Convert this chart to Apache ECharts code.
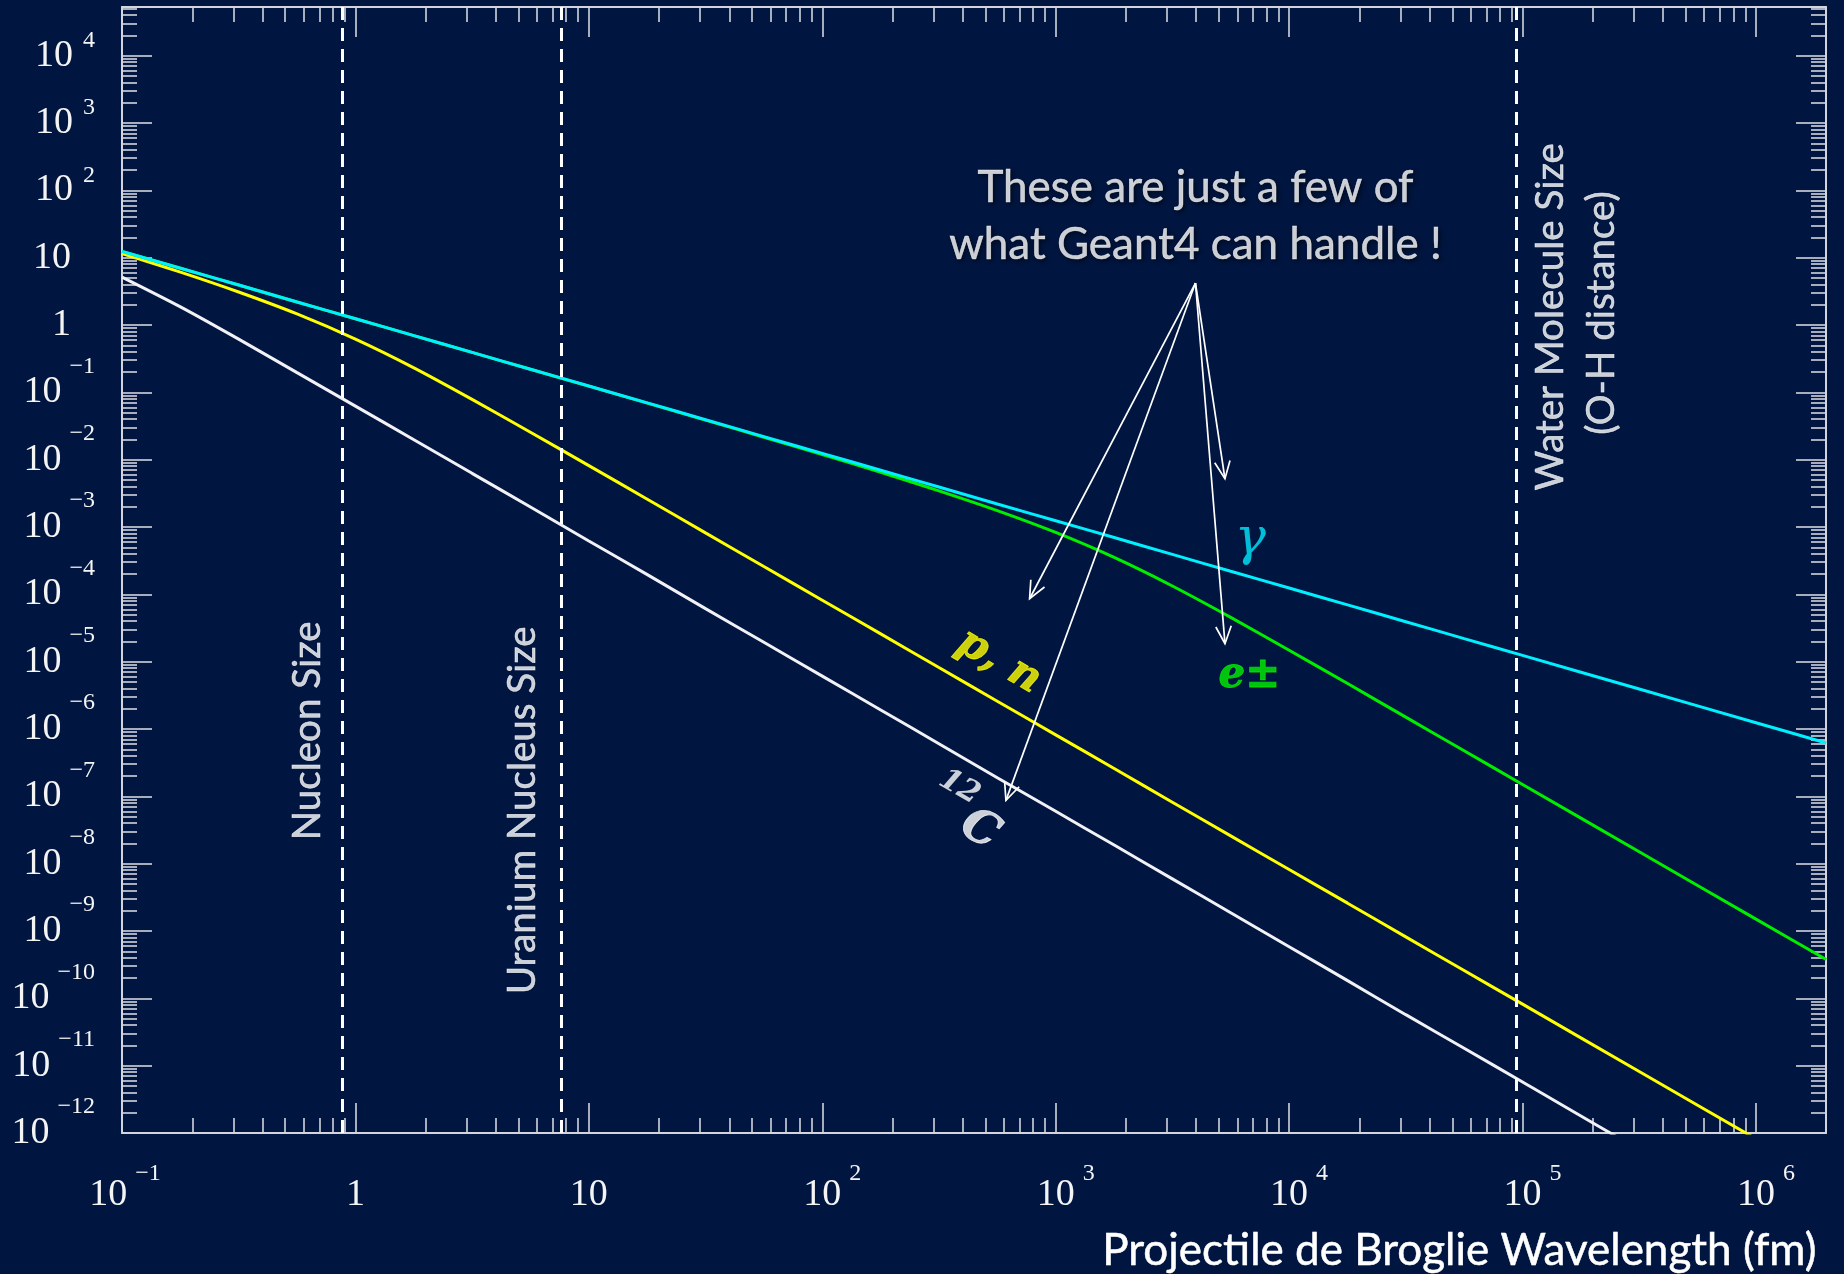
<!DOCTYPE html>
<html>
<head>
<meta charset="utf-8">
<script src="https://cdn.jsdelivr.net/npm/echarts@6/dist/echarts.min.js"></script>
<style>
html,body{margin:0;padding:0;background:#001640;}
#chart{width:1844px;height:1274px;}
</style>
</head>
<body>
<div id="chart"></div>
<script>
// ---------------- data ----------------
// de Broglie wavelength (fm)
const wavelengthFm = [0.1, 0.178, 0.316, 0.562, 1, 1.78, 3.16, 5.62, 10, 17.8, 31.6, 56.2, 100, 178, 316, 562, 1000, 1780, 3160, 5620, 10000, 17800, 31600, 56200, 100000, 316000, 1000000, 2000000];
// kinetic energy (GeV) of each projectile at those wavelengths
const gammaGeV = [12.4, 6.97, 3.92, 2.2, 1.24, 0.697, 0.392, 0.22, 0.124, 0.0697, 0.0392, 0.022, 0.0124, 0.00697, 0.00392, 0.0022, 0.00124, 6.97e-4, 3.92e-4, 2.2e-4, 1.24e-4, 6.97e-5, 3.92e-5, 2.2e-5, 1.24e-5, 3.92e-6, 1.24e-6, 6.2e-7];
const electronGeV = [12.4, 6.97, 3.92, 2.2, 1.24, 0.697, 0.392, 0.22, 0.1235, 0.0692, 0.0387, 0.02155, 0.0119, 0.00648, 0.00344, 0.00175, 8.3e-4, 3.53e-4, 1.33e-4, 4.55e-5, 1.48e-5, 4.73e-6, 1.5e-6, 4.75e-7, 1.5e-7, 1.5e-8, 1.5e-9, 3.78e-10];
const nucleonGeV = [11.5, 6.1, 3.09, 1.46, 0.617, 0.231, 0.0786, 0.0256, 0.00816, 0.00259, 8.19e-4, 2.59e-4, 8.19e-5, 2.59e-5, 8.19e-6, 2.59e-6, 8.19e-7, 2.59e-7, 8.19e-8, 2.59e-8, 8.19e-9, 2.59e-9, 8.19e-10, 2.59e-10, 8.19e-11, 8.19e-12, 8.19e-13, 2.05e-13];
const carbonGeV = [5.15, 1.86, 0.617, 0.196, 0.0625, 0.0198, 0.00627, 0.00198, 6.2e-4, 1.96e-4, 6.13e-5, 1.94e-5, 6.1e-6, 1.92e-6, 6.05e-7, 1.89e-7, 5.99e-8, 1.89e-8, 5.95e-9, 1.87e-9, 5.85e-10, 1.83e-10, 5.72e-11, 1.81e-11, 5.72e-12, 5.7e-13, 6.9e-14, 1.7e-14];

// reference sizes (fm)
const nucleonSizeFm = 0.88;
const uraniumSizeFm = 7.65;
const waterOHFm = 94000;

// axis tick exponents (decades)
const xTickExponents = [-1, 0, 1, 2, 3, 4, 5, 6];
const yTickExponents = [-12, -11, -10, -9, -8, -7, -6, -5, -4, -3, -2, -1, 0, 1, 2, 3, 4];

// axis ranges (in decades)
const X_LOG_MIN = -1, X_LOG_MAX = 6.3;
const Y_LOG_MIN = -12, Y_LOG_MAX = 4.723;

// annotation arrows: one origin, four targets (data coordinates)
const arrowFrom = [3970, 4.2];
const arrowTo = [[773, 8.6e-5], [5310, 5.2e-3], [5310, 1.85e-5], [612, 8.7e-8]];

// ---------------- chart ----------------
const BG = '#001640';
const AXC = '#d2d5de';
const LBL = '#f4f4f4';
const MINUS = '\u2212';

function minorTicks(lo, hi) {
  const out = [];
  for (let k = Math.floor(lo); k < hi; k++) {
    for (let m = 2; m <= 9; m++) {
      const v = k + Math.log10(m);
      if (v > lo && v < hi) out.push(v);
    }
  }
  return out;
}
const xMinor = minorTicks(X_LOG_MIN, X_LOG_MAX);
const yMinor = minorTicks(Y_LOG_MIN, Y_LOG_MAX);

const serif = 'Liberation Serif';
const yRich = {
  m:  {fontFamily: serif, fontSize: 38, color: LBL},
  m0: {fontFamily: serif, fontSize: 38, color: LBL, padding: [0, 24, 0, 0]},
  ep: {fontFamily: serif, fontSize: 24, color: LBL, padding: [0, 0, 30, 10]},
  en: {fontFamily: serif, fontSize: 24, color: LBL, padding: [0, 0, 52, 8]}
};
const xRich = {
  m:  {fontFamily: serif, fontSize: 38, color: LBL},
  mp: {fontFamily: serif, fontSize: 38, color: LBL, padding: [0, 0, 0, 20]},
  mq: {fontFamily: serif, fontSize: 38, color: LBL, padding: [0, 0, 0, 6]},
  ep: {fontFamily: serif, fontSize: 24, color: LBL, padding: [0, 0, 42, 8]},
  en: {fontFamily: serif, fontSize: 24, color: LBL, padding: [0, 0, 42, 8]}
};
function yLabel(v) {
  const k = Math.round(v);
  if (k === 0) return '{m0|1}';
  if (k === 1) return '{m0|10}';
  if (k > 1) return '{m|10}{ep|' + k + '}';
  return '{m|10}{en|' + MINUS + (-k) + '}';
}
function xLabel(v) {
  const k = Math.round(v);
  if (k === 0) return '{m|1}';
  if (k === 1) return '{m|10}';
  if (k > 1) return '{mp|10}{ep|' + k + '}';
  return '{mq|10}{en|' + MINUS + (-k) + '}';
}

function tickAxis(dim, pos, major, showLine, label) {
  const isX = dim === 'x';
  const ax = {
    type: 'value',
    position: pos,
    min: isX ? X_LOG_MIN : Y_LOG_MIN,
    max: isX ? X_LOG_MAX : Y_LOG_MAX,
    axisLine: {show: showLine, onZero: false, lineStyle: {color: AXC, width: 2}},
    axisTick: {show: true, inside: true, length: major ? 30 : 15,
               customValues: major ? (isX ? xTickExponents : yTickExponents) : (isX ? xMinor : yMinor),
               lineStyle: {color: AXC, width: 1.6}},
    axisLabel: {show: false},
    splitLine: {show: false},
    silent: true
  };
  if (label) ax.axisLabel = label;
  return ax;
}

function renderArrow(params, api) {
  const p0 = api.coord([api.value(0), api.value(1)]);
  const p1 = api.coord([api.value(2), api.value(3)]);
  const dx = p1[0] - p0[0], dy = p1[1] - p0[1];
  const len = Math.sqrt(dx * dx + dy * dy);
  const bx = -dx / len, by = -dy / len;
  const head = 19, ang = 24 * Math.PI / 180;
  const ca = Math.cos(ang), sa = Math.sin(ang);
  const w1 = [p1[0] + head * (bx * ca - by * sa), p1[1] + head * (bx * sa + by * ca)];
  const w2 = [p1[0] + head * (bx * ca + by * sa), p1[1] + head * (-bx * sa + by * ca)];
  const st = {stroke: '#ffffff', lineWidth: 1.7, fill: null};
  return {
    type: 'group',
    children: [
      {type: 'line', shape: {x1: p0[0], y1: p0[1], x2: p1[0], y2: p1[1]}, style: st},
      {type: 'polyline', shape: {points: [w1, p1, w2]}, style: st}
    ]
  };
}

const pairs = ys => wavelengthFm.map((x, i) => [x, ys[i]]);
const curve = (name, ys, color) => ({
  type: 'line', name: name, data: pairs(ys), xAxisIndex: 0, yAxisIndex: 0,
  symbol: 'none', showSymbol: false, clip: true, silent: true,
  smooth: 0.25,
  lineStyle: {color: color, width: 3}
});

const sansFont = 'Lato';
const mathFont = 'DejaVu Serif';
const sansText = (txt, size) => ({formatter: txt, rotate: 90, fontFamily: sansFont, fontSize: size, color: '#ffffff',
  textBorderColor: '#ffffff', textBorderWidth: 0.5});
const textLabels = [
  {value: [0.624, 9.4e-7], label: sansText('Nucleon Size', 38.5)},
  {value: [5.2, 6.2e-8], label: sansText('Uranium Nucleus Size', 38.5)},
  {value: [131500, 1.32], label: sansText('Water Molecule Size', 38.5)},
  {value: [219000, 1.51], label: sansText('(O-H distance)', 38.5)},
  {value: [3970, 41], label: {formatter: 'These are just a few of\nwhat Geant4 can handle !', fontFamily: sansFont, fontSize: 44, lineHeight: 57, align: 'center', color: '#ffffff',
     textBorderColor: '#ffffff', textBorderWidth: 0.5,
     textShadowColor: 'rgba(0,0,0,0.6)', textShadowBlur: 4, textShadowOffsetX: 2, textShadowOffsetY: 2}},
  {value: [6820, 6.3e-4], label: {formatter: '\u03b3', fontFamily: mathFont, fontStyle: 'italic', fontSize: 52, color: '#00eaff'}},
  {value: [570, 1.0e-5], label: {formatter: 'p, n', rotate: -30, fontFamily: mathFont, fontStyle: 'italic', fontWeight: 'bold', fontSize: 42, color: '#ffff00',
     textBorderColor: '#ffff00', textBorderWidth: 0.8}},
  {value: [6760, 6.05e-6], label: {formatter: 'e\u00b1', fontFamily: mathFont, fontStyle: 'italic', fontWeight: 'bold', fontSize: 42, color: '#00f000',
     textBorderColor: '#00f000', textBorderWidth: 0.8}},
  {value: [395, 4.47e-8], label: {formatter: '{s|12}{c|C}', rotate: -30,
     rich: {s: {fontFamily: mathFont, fontStyle: 'italic', fontWeight: 'bold', fontSize: 30, color: '#ffffff', padding: [0, 0, 54, 0]},
            c: {fontFamily: mathFont, fontStyle: 'italic', fontWeight: 'bold', fontSize: 46, color: '#ffffff', textBorderColor: '#ffffff', textBorderWidth: 0.8}}}}
];

const option = {
  backgroundColor: BG,
  animation: false,
  title: {
    text: 'Projectile de Broglie Wavelength (fm)',
    right: 22, top: 1224,
    textStyle: {color: '#ffffff', fontFamily: sansFont, fontSize: 44, fontWeight: 'normal', textBorderColor: '#ffffff', textBorderWidth: 0.5}
  },
  grid: {left: 122, right: 18, top: 7, bottom: 141, containLabel: false},
  xAxis: [
    {type: 'log', logBase: 10, min: Math.pow(10, X_LOG_MIN), max: Math.pow(10, X_LOG_MAX), show: false, splitLine: {show: false}},
    tickAxis('x', 'bottom', true, true, {show: true, customValues: xTickExponents, formatter: xLabel, margin: 62, verticalAlign: 'middle', rich: xRich}),
    tickAxis('x', 'bottom', false, false),
    tickAxis('x', 'top', true, true),
    tickAxis('x', 'top', false, false)
  ],
  yAxis: [
    {type: 'log', logBase: 10, min: Math.pow(10, Y_LOG_MIN), max: Math.pow(10, Y_LOG_MAX), show: false, splitLine: {show: false}},
    tickAxis('y', 'left', true, true, {show: true, customValues: yTickExponents, formatter: yLabel, margin: 27, align: 'right', verticalAlign: 'middle', rich: yRich}),
    tickAxis('y', 'left', false, false),
    tickAxis('y', 'right', true, true),
    tickAxis('y', 'right', false, false)
  ],
  series: [
    curve('12C', carbonGeV, '#f2f2f6'),
    curve('p, n', nucleonGeV, '#ffff00'),
    curve('e\u00b1', electronGeV, '#00ee00'),
    curve('\u03b3', gammaGeV, '#00f0ff'),
    {
      type: 'line', data: [], xAxisIndex: 0, yAxisIndex: 0, silent: true,
      markLine: {
        silent: true, symbol: ['none', 'none'], label: {show: false}, animation: false,
        lineStyle: {color: '#ffffff', width: 3, type: [13, 8]},
        emphasis: {disabled: true},
        data: [{xAxis: nucleonSizeFm}, {xAxis: uraniumSizeFm}, {xAxis: waterOHFm}]
      }
    },
    {
      type: 'custom', xAxisIndex: 0, yAxisIndex: 0, silent: true, z: 10,
      renderItem: renderArrow,
      encode: {x: [0, 2], y: [1, 3]},
      data: arrowTo.map(t => [arrowFrom[0], arrowFrom[1], t[0], t[1]])
    },
    {
      type: 'scatter', xAxisIndex: 0, yAxisIndex: 0, silent: true, z: 11,
      symbolSize: 1, itemStyle: {color: 'rgba(0,0,0,0)'},
      label: {show: true, position: 'inside', align: 'center', verticalAlign: 'middle'},
      data: textLabels
    }
  ]
};

const chart = echarts.init(document.getElementById('chart'), null, {renderer: 'canvas'});
chart.setOption(option);
</script>
</body>
</html>
